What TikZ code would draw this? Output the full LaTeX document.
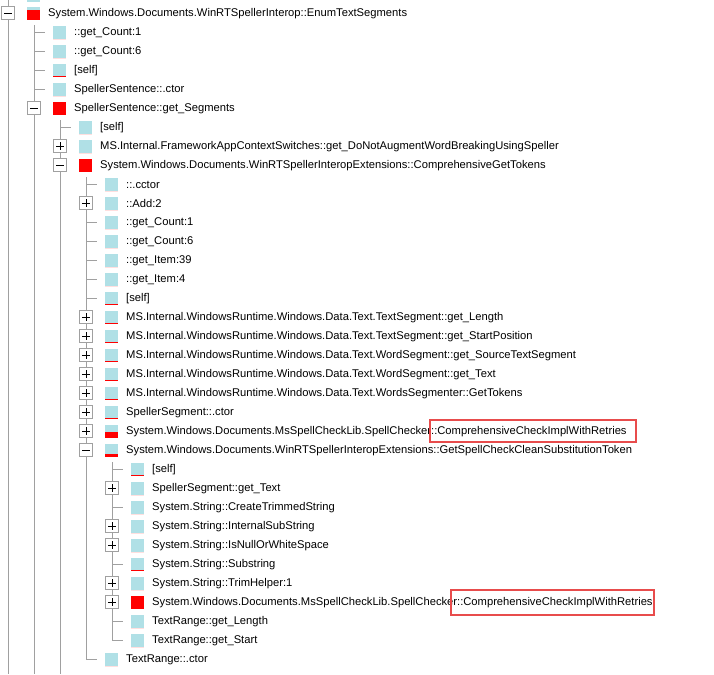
\documentclass[tikz,border=0pt]{standalone}
\usepackage{fontspec}
\setmainfont{Liberation Sans}
\usepackage{tikz}

\definecolor{iconblue}{HTML}{B0E0E6}
\definecolor{treeline}{HTML}{A0A0A0}
\definecolor{markred}{HTML}{E84C4C}

\tikzset{
  rowtext/.style={anchor=west, inner sep=0pt, font=\fontsize{11.2}{13}\selectfont},
  togglebox/.style={draw=treeline, fill=white, minimum size=13pt, inner sep=0pt},
  hilite/.style={draw=markred, line width=2pt}
}

% \treerow{row}{level}{toggle 0/1/2}{red height}{text}
\newcommand{\treerow}[5]{%
  \pgfmathsetmacro{\ry}{13+19*#1}
  \pgfmathsetmacro{\rx}{26*#2}
  \ifnum#3=0
    \draw[treeline] (\rx+8,\ry) -- (\rx+19,\ry);
  \else
    \node[togglebox] (b#1) at (\rx+8,\ry) {};
    \draw (\rx+4,\ry) -- (\rx+12,\ry);
    \ifnum#3=1 \draw (\rx+8,\ry-4) -- (\rx+8,\ry+4); \fi
  \fi
  \fill[iconblue] (\rx+27,\ry-6) rectangle (\rx+40,\ry+7);
  \fill[red] (\rx+27,\ry+7-#4) rectangle (\rx+40,\ry+7);
  \node[rowtext] (t#1) at (\rx+48,\ry+0.5) {#5};
}

\begin{document}
\begin{tikzpicture}[x=1pt,y=-1pt]
  \useasboundingbox (0,0) rectangle (714,674);
  % tree lines
  \draw[treeline]
    (8,0) -- (8,674)
    (34,25) -- (34,674)
    (60,120) -- (60,674)
    (86,177) -- (86,659)
    (112,462) -- (112,640);
  \fill[iconblue] (27,0) rectangle (40,2);
  % rows
  \treerow{0}{0}{2}{10}{System.Windows.Documents.WinRTSpellerInterop::EnumTextSegments}
  \treerow{1}{1}{0}{0}{::get\_Count:1}
  \treerow{2}{1}{0}{0}{::get\_Count:6}
  \treerow{3}{1}{0}{1}{[self]}
  \treerow{4}{1}{0}{0}{SpellerSentence::.ctor}
  \treerow{5}{1}{2}{13}{SpellerSentence::get\_Segments}
  \treerow{6}{2}{0}{0}{[self]}
  \treerow{7}{2}{1}{0}{MS.Internal.FrameworkAppContextSwitches::get\_DoNotAugmentWordBreakingUsingSpeller}
  \treerow{8}{2}{2}{13}{System.Windows.Documents.WinRTSpellerInteropExtensions::ComprehensiveGetTokens}
  \treerow{9}{3}{0}{0}{::.cctor}
  \treerow{10}{3}{1}{0}{::Add:2}
  \treerow{11}{3}{0}{0}{::get\_Count:1}
  \treerow{12}{3}{0}{0}{::get\_Count:6}
  \treerow{13}{3}{0}{0}{::get\_Item:39}
  \treerow{14}{3}{0}{0}{::get\_Item:4}
  \treerow{15}{3}{0}{1}{[self]}
  \treerow{16}{3}{1}{1}{MS.Internal.WindowsRuntime.Windows.Data.Text.TextSegment::get\_Length}
  \treerow{17}{3}{1}{1}{MS.Internal.WindowsRuntime.Windows.Data.Text.TextSegment::get\_StartPosition}
  \treerow{18}{3}{1}{1}{MS.Internal.WindowsRuntime.Windows.Data.Text.WordSegment::get\_SourceTextSegment}
  \treerow{19}{3}{1}{1}{MS.Internal.WindowsRuntime.Windows.Data.Text.WordSegment::get\_Text}
  \treerow{20}{3}{1}{1}{MS.Internal.WindowsRuntime.Windows.Data.Text.WordsSegmenter::GetTokens}
  \treerow{21}{3}{1}{1}{SpellerSegment::.ctor}
  \treerow{22}{3}{1}{6}{System.Windows.Documents.MsSpellCheckLib.SpellChecker::ComprehensiveCheckImplWithRetries}
  \treerow{23}{3}{2}{3}{System.Windows.Documents.WinRTSpellerInteropExtensions::GetSpellCheckCleanSubstitutionToken}
  \treerow{24}{4}{0}{1}{[self]}
  \treerow{25}{4}{1}{0}{SpellerSegment::get\_Text}
  \treerow{26}{4}{0}{0}{System.String::CreateTrimmedString}
  \treerow{27}{4}{1}{0}{System.String::InternalSubString}
  \treerow{28}{4}{1}{0}{System.String::IsNullOrWhiteSpace}
  \treerow{29}{4}{0}{1}{System.String::Substring}
  \treerow{30}{4}{1}{0}{System.String::TrimHelper:1}
  \treerow{31}{4}{1}{13}{System.Windows.Documents.MsSpellCheckLib.SpellChecker::ComprehensiveCheckImplWithRetries}
  \treerow{32}{4}{0}{0}{TextRange::get\_Length}
  \treerow{33}{4}{0}{0}{TextRange::get\_Start}
  \treerow{34}{3}{0}{0}{TextRange::.ctor}
  % highlights
  \draw[hilite] (430,420) rectangle (636,442);
  \draw[hilite] (451,590) rectangle (654,615);
\end{tikzpicture}
\end{document}
